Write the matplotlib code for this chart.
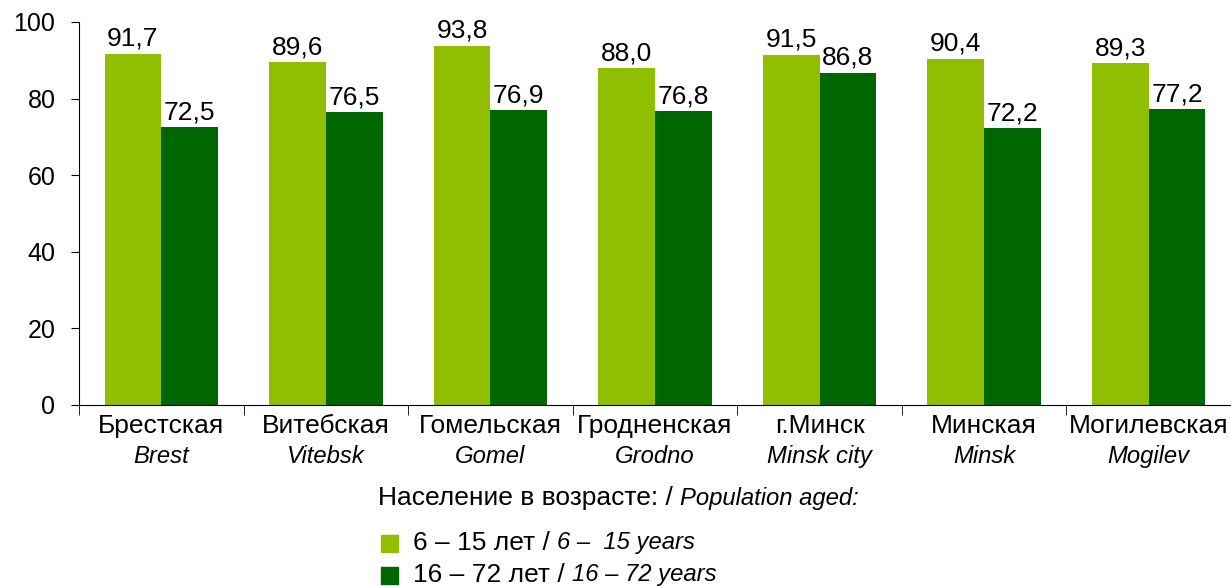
import matplotlib.pyplot as plt
import numpy as np
from matplotlib.patches import Rectangle

plt.rcParams['font.family'] = ['Liberation Sans', 'DejaVu Sans']

# data
regions_ru = ['Брестская', 'Витебская', 'Гомельская', 'Гродненская', 'г.Минск', 'Минская', 'Могилевская']
regions_en = ['Brest', 'Vitebsk', 'Gomel', 'Grodno', 'Minsk city', 'Minsk', 'Mogilev']
aged_6_15 = [91.7, 89.6, 93.8, 88.0, 91.5, 90.4, 89.3]
aged_16_72 = [72.5, 76.5, 76.9, 76.8, 86.8, 72.2, 77.2]
series_ru = ['6 – 15 лет / ', '16 – 72 лет / ']
series_en = ['6 –  15 years', '16 – 72 years']
legend_title_ru = 'Население в возрасте: / '
legend_title_en = 'Population aged:'

c_light = '#8fbf00'
c_dark = '#006600'
fs_main = 19
fs_it = 17.2

fig = plt.figure(figsize=(12.31, 5.86), dpi=100)
ax = fig.add_axes([0.0642, 0.3089, 0.9358, 0.6536])

x = np.arange(len(regions_ru))
w = 0.345
b1 = ax.bar(x - w / 2, aged_6_15, w, color=c_light)
b2 = ax.bar(x + w / 2, aged_16_72, w, color=c_dark)

for bars, vals in [(b1, aged_6_15), (b2, aged_16_72)]:
    for r, v in zip(bars, vals):
        ax.annotate(f'{v:.1f}'.replace('.', ','), (r.get_x() + r.get_width() / 2, v),
                    xytext=(0, 2), textcoords='offset points', ha='center', va='bottom',
                    fontsize=fs_main)

ax.set_xlim(-0.5, len(regions_ru) - 0.5)
ax.set_ylim(0, 100)
ax.set_yticks(range(0, 101, 20))
ax.tick_params(axis='y', labelsize=18, length=6, direction='out', pad=11)
ax.set_xticks([])
ax.set_xticks(np.arange(-0.5, len(regions_ru)), minor=True)
ax.tick_params(axis='x', which='minor', length=7, direction='out')
for s in ['top', 'right']:
    ax.spines[s].set_visible(False)

for i in range(len(regions_ru)):
    ax.annotate(regions_ru[i], (x[i], 0), xycoords=('data', 'axes fraction'),
                xytext=(0, -6.5), textcoords='offset points', ha='center', va='top', fontsize=fs_main)
    ax.annotate(regions_en[i], (x[i], 0), xycoords=('data', 'axes fraction'),
                xytext=(0, -28.5), textcoords='offset points', ha='center', va='top',
                fontsize=fs_it, style='italic')

# legend (mixed upright / italic text)
t = fig.text(0.307, 1 - 498 / 586, legend_title_ru, fontsize=fs_main, va='center')
fig.canvas.draw()
ax.annotate(legend_title_en, xy=(1, 0.5), xycoords=t, va='center', fontsize=fs_it, style='italic')

for k, col in enumerate([c_light, c_dark]):
    yc = 1 - (543 + 32 * k) / 586
    fig.patches.append(Rectangle((381 / 1231, yc - 8.5 / 586), 17 / 1231, 17 / 586,
                                 transform=fig.transFigure, color=col))
    tt = fig.text(413 / 1231, yc, series_ru[k], fontsize=fs_main, va='center')
    ax.annotate(series_en[k], xy=(1, 0.5), xycoords=tt, va='center', fontsize=fs_it, style='italic')

fig.savefig('out.png', dpi=100)
